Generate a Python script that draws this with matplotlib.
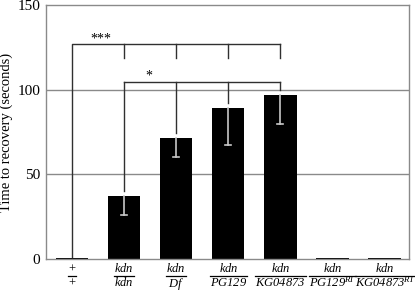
import matplotlib
matplotlib.use("Agg")
import matplotlib.pyplot as plt
from matplotlib.lines import Line2D

plt.rcParams['font.family'] = ['Liberation Serif', 'DejaVu Serif']
plt.rcParams['mathtext.fontset'] = 'custom'
plt.rcParams['mathtext.rm'] = 'Liberation Serif:italic'
plt.rcParams['mathtext.it'] = 'Liberation Serif:italic'

# Data
numerators = ['+', 'kdn', 'kdn', 'kdn', 'kdn', 'kdn', 'kdn']
denominators = ['+', 'kdn', 'Df', 'PG129', 'KG04873', 'PG129', 'KG04873']
den_sup = ['', '', '', '', '', 'RI', 'RI']
values = [0.5, 37.0, 71.5, 89.3, 96.6, 0.5, 0.5]
err_low = [0.0, 11.0, 11.0, 21.7, 16.6, 0.0, 0.0]
sig_far = '***'
sig_near = '*'

fig = plt.figure(figsize=(4.15, 2.91), dpi=100)
ax = fig.add_axes([46/415, 1-259/291, (409-46)/415, (259-5)/291])

x = list(range(len(values)))
ax.bar(x, values, width=0.62, color='black', zorder=2)
ec = '#c8c8c8'
for xi, v, e in zip(x, values, err_low):
    if e > 0:
        ax.plot([xi, xi], [v, v - e], color=ec, lw=1.2, zorder=3)
        ax.plot([xi - 0.06, xi + 0.06], [v - e, v - e], color=ec, lw=1.2, zorder=3)

ax.set_xlim(-0.5, 6.47)
ax.set_ylim(0, 150)
ax.set_yticks([0, 50, 100, 150])
ax.tick_params(axis='y', length=0, labelsize=11, pad=4)
ax.set_xticks([])
for yv in [50, 100]:
    ax.axhline(yv, color='#8a8a8a', lw=1.0, zorder=1)
for s in ax.spines.values():
    s.set_color('#8a8a8a')
    s.set_linewidth(1.0)
ax.set_ylabel('Time to recovery (seconds)', fontsize=10.5, labelpad=3)

# Significance brackets
bc = '#303030'
top1 = 126.8
ax.plot([0, 0, 4], [1.0, top1, top1], color=bc, lw=1.0, zorder=4)
for xi in [1, 2, 3, 4]:
    ax.plot([xi, xi], [top1, 118.6], color=bc, lw=1.0, zorder=4)
ax.text(0.55, top1 - 0.5, sig_far, ha='center', va='bottom', fontsize=10)

top2 = 104.5
ax.plot([1, 4], [top2, top2], color=bc, lw=1.0, zorder=4)
for xi, v in zip([1, 2, 3, 4], values[1:5]):
    ax.plot([xi, xi], [top2, v + 3], color=bc, lw=1.0, zorder=4)
ax.text(1.48, top2 - 0.5, sig_near, ha='center', va='bottom', fontsize=10)

# Fraction tick labels
fig.canvas.draw()
r = fig.canvas.get_renderer()
fs = 9.0
for xi, n, d, sp in zip(x, numerators, denominators, den_sup):
    ns = n if n == '+' else r'$\mathit{%s}$' % n
    if d == '+':
        ds = d
    elif sp:
        ds = r'$\mathit{%s}^{\mathit{%s}}$' % (d, sp)
    else:
        ds = r'$\mathit{%s}$' % d
    t1 = fig.text(0, 0, ns, fontsize=fs, ha='center', va='baseline')
    t2 = fig.text(0, 0, ds, fontsize=fs, ha='center', va='baseline')
    xd = ax.transData.transform((xi, 0))[0] / 415
    t1.set_position((xd, 1 - 272.5/291))
    t2.set_position((xd, 1 - 286.5/291))
    w = max(t1.get_window_extent(r).width, t2.get_window_extent(r).width)
    ly = 1 - 276/291
    fig.add_artist(Line2D([xd - w/2/415, xd + w/2/415], [ly, ly], color='black', lw=0.9))

fig.savefig('out.png', dpi=100)
